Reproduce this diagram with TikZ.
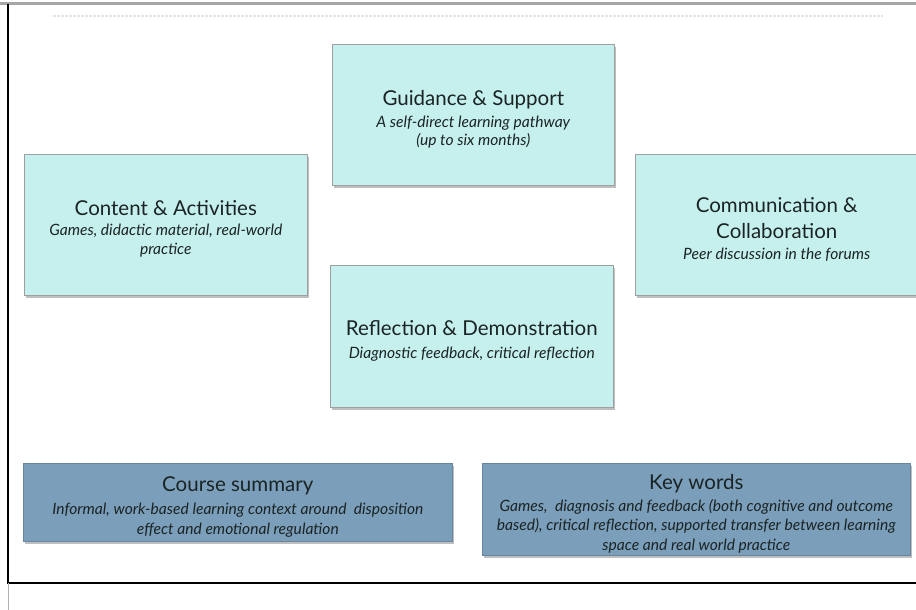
\documentclass[tikz,border=0pt]{standalone}
\usepackage{fontspec}
\setmainfont{Lato}
\usepackage{xcolor}
\usetikzlibrary{positioning,shadows}
\definecolor{paneCyan}{HTML}{C6F0EE}
\definecolor{paneBlue}{HTML}{7B9EBA}
\definecolor{paneInk}{HTML}{1B2424}
\tikzset{pane style/.style={draw=gray!75, fill=paneCyan, line width=0.6pt,
		drop shadow={shadow xshift=1.5pt, shadow yshift=-2.5pt, opacity=.5},
		anchor=north west, align=center, inner sep=0pt, text=paneInk,
		font=\fontsize{15.6}{19.5}\selectfont}}
\newcommand{\panehead}[1]{{\fontsize{20.5}{20}\selectfont #1}}
\newcommand{\panetop}{\rule{0pt}{24pt}}

\begin{document}
\begin{tikzpicture}[x=1pt,y=-1pt]
	\tikzstyle{summary}= [pane style, fill=paneBlue, draw=paneBlue!85!black]
	\useasboundingbox (0,0) rectangle (916,610);
	
	% frame of the slide
	\coordinate (tl) at (8,4);
	\coordinate (bl) at (8,583);
	\coordinate (br) at (916,583);
	\draw[gray!70, line width=3pt] (0,4) -- (916,4);
	\draw[gray!22, line width=2pt, dash pattern=on 3pt off 1pt] (53,16) -- (883,16);
	\draw[black, line width=1.3pt] (tl) -- (bl) -- (br);
	\draw[gray!60, line width=0.6pt] (bl) -- (8,610);
	
	\node[pane style, minimum width=282, minimum height=141] (guide) at (332,44)
	{\panetop\panehead{Guidance \& Support}\\[3pt]
		\itshape A self-direct learning pathway\\[-2pt] \itshape (up to six months)};
	\node[pane style, minimum width=283, minimum height=141] (content) at (24,154)
	{\panetop\panehead{Content \& Activities}\\[0pt]
		\itshape Games, didactic material, real-world\\ \itshape practice};
	\node[pane style, minimum width=283, minimum height=141] (comm) at (635,154)
	{\panetop\panehead{Communication \&}\\[6.5pt] \panehead{Collaboration}\\[1pt]
		\itshape Peer discussion in the forums};
	\node[pane style, minimum width=283, minimum height=142] (reflect) at (330,265)
	{\panetop\panehead{Reflection \& Demonstration}\\[4pt]
		\itshape Diagnostic feedback, critical reflection};
	
	%	bottom boxes
	\node[summary, minimum width=429, minimum height=78] (course) at (23,463)
	{\panetop\panehead{Course summary}\\[4pt]
		\itshape Informal, work-based learning context around\ \ disposition\\
		\itshape effect and emotional regulation};
	\node[summary, minimum width=428, minimum height=92] (keys) at (482,463)
	{\panetop\panehead{Key words}\\[2pt]
		\itshape Games,\ \ diagnosis and feedback (both cognitive and outcome\\
		\itshape based), critical reflection, supported transfer between learning\\
		\itshape space and real world practice};
\end{tikzpicture}
\end{document}
